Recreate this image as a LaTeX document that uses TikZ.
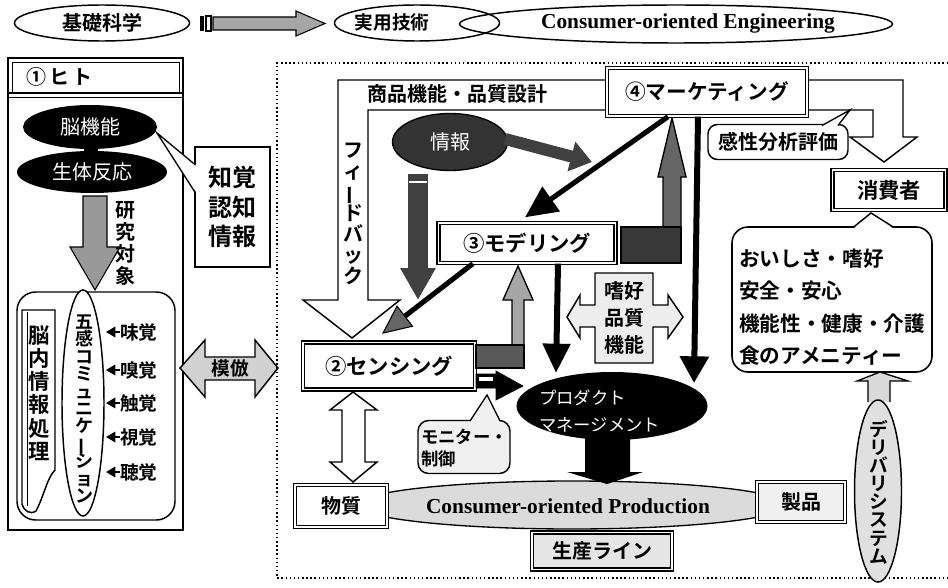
\documentclass[tikz,border=0pt]{standalone}
\usepackage{fontspec}
\usepackage{graphicx}
\setmainfont{Liberation Serif}
\newfontfamily\jp{Noto Sans CJK JP}[BoldFont={* Bold}]
\usetikzlibrary{shapes.geometric,arrows.meta,calc}
\newcommand\vbar{\rotatebox[origin=c]{90}{ー}}
\def\pxu{0.75pt}
\lineskiplimit=-50pt
\lineskip=0pt
\begin{document}
\begin{tikzpicture}[x=0.75pt,y=-0.75pt,
  J/.style={font=\jp\bfseries\fontsize{#1}{#1}\selectfont, inner sep=0pt},
  J/.default=15,
  W/.style={font=\jp\fontsize{#1}{#1}\selectfont, text=white, inner sep=0pt},
  W/.default=15,
  JL/.style 2 args={font=\jp\bfseries\fontsize{#1}{#2}\selectfont, align=center, inner sep=0pt},
  dbox/.style={draw, line width=1pt, double=white, double distance=1.4pt, inner sep=0pt},
  ol/.style={line width=1.1pt},
  en/.style={font=\bfseries\fontsize{16}{16}\selectfont, inner sep=0pt}
]
\useasboundingbox (0,0) rectangle (948,588);

% ---------------- top row ----------------
\node[ellipse, draw, ol, minimum width=175*\pxu, minimum height=36*\pxu, J=15] (kiso) at (102,23) {基礎科学};
\fill (200,16) rectangle (204,31);
\draw[line width=0.8pt] (206,16) rectangle (211,31);
\filldraw[fill=black!35, line width=0.8pt] (213,17) -- (296,17) -- (296,11) -- (325,23.5) -- (296,36) -- (296,30) -- (213,30) -- cycle;
\node[ellipse, draw, ol, minimum width=165*\pxu, minimum height=36*\pxu] (jitsu) at (417,23) {};
\node[J=14] (jitsuT) at (392,22) {実用技術};
\node[ellipse, draw, ol, minimum width=433*\pxu, minimum height=38*\pxu] (ce) at (676,24) {};
\node[en] (ceT) at (688,23) {Consumer-oriented Engineering};

% ---------------- left panel ----------------
\draw[line width=1.3pt] (8,58) rectangle (183,530);
\draw[line width=0.6pt] (12,62) rectangle (179,92);
\draw[line width=1pt] (8,93) -- (183,93);
\draw[line width=0.6pt] (8,97) -- (183,97);
\node[J=15, anchor=west] (hito) at (26,77) {①\,ヒ\,ト};

\fill (84,145) rectangle (98,155);
\node[ellipse, fill=black, minimum width=134*\pxu, minimum height=44*\pxu, W=15] (brain) at (90,127) {脳機能};
\node[ellipse, fill=black, minimum width=150*\pxu, minimum height=42*\pxu, W=15] (bio) at (92,172) {生体反応};

\node[draw, ol, fill=white, minimum width=75*\pxu, minimum height=120*\pxu, JL={18}{22}] (chikaku) at (232.5,207) {知覚\\認知\\情報};
\fill[white] (196.5,165) -- (157,133) -- (196.5,193) -- cycle;
\draw[line width=1pt] (195.5,165) -- (157,133) -- (195.5,193);

\filldraw[fill=black!40, line width=0.8pt] (83,196) -- (107,196) -- (107,247) -- (120,247) -- (95,290) -- (70,247) -- (83,247) -- cycle;
\node[JL={15}{16.5}] (kenkyu) at (125,243) {研\\究\\対\\象};

\node[draw, ol, rounded corners=14pt, minimum width=158*\pxu, minimum height=228*\pxu] (sensebox) at (96,406) {};
\node[ellipse, draw, ol, fill=white, minimum width=42*\pxu, minimum height=226*\pxu] (gokan) at (83,403) {};
\node[JL={13.5}{13.1}] (gokanT) at (84,409) {五\\感\\コ\\ミ\\ュ\\ニ\\ケ\\\vbar\\シ\\ョ\\ン};

\draw[ol, fill=white] (22,310) -- (55,310) -- (55,470) .. controls (47,478) and (44,496) .. (36,511) .. controls (30,515) and (24,511) .. (22,504) -- cycle;
\draw[line width=0.6pt] (27,312) -- (27,506);
\node[JL={16}{17.4}] (nounai) at (39,393) {脳\\内\\情\\報\\処\\理};

\foreach \nm/\lab/\yy in {mi/味覚/332, kyu/嗅覚/370, sho/触覚/403, shi/視覚/437, cho/聴覚/472}{
  \node[J=14, anchor=west] (\nm) at (120,\yy) {\lab};
  \draw[line width=1pt, -{Triangle[length=7pt,width=8pt]}] (\nm.west) -- (106,\yy);
}

\filldraw[fill=black!18, ol] (180,368) -- (205,340) -- (205,357) -- (255,357) -- (255,340) -- (278,368) -- (255,397) -- (255,380) -- (205,380) -- (205,397) -- cycle;
\node[J=14] (mohou) at (230,368) {模倣};

% ---------------- right region ----------------
\draw[dotted, line width=1.1pt] (948,63) -- (277,63) -- (277,578) -- (948,578);

% feedback hollow arrow
\filldraw[fill=white, ol] (612,80) -- (338,80) -- (338,300) -- (303,300) -- (352,338) -- (400,300) -- (368,300) -- (368,110) -- (612,110);
\node[J=15] (shohin) at (457,94) {商品機能・品質設計};
\node[JL={15}{15.7}] (fb) at (353,214) {フ\\ィ\\\vbar\\ド\\バ\\ッ\\ク};

% hollow arrow to consumer
\filldraw[fill=white, ol] (800,80) -- (903,80) -- (903,137) -- (917,137) -- (884,162) -- (850,137) -- (873,137) -- (873,110) -- (800,110);

% L arrow model -> marketing
\filldraw[fill=black!60, line width=1pt] (621,227) -- (663,227) -- (663,177) -- (658,177) -- (672,118) -- (686,177) -- (681,177) -- (681,263) -- (621,263) -- cycle;
\filldraw[fill=black!78, line width=1pt] (621,227) rectangle (681,263);

\node[dbox, fill=white, minimum width=200*\pxu, minimum height=48*\pxu, J=15.5] (mkt) at (707,92) {④マーケティング};

\node[draw, ol, rounded corners=7pt, fill=white, minimum width=140*\pxu, minimum height=35*\pxu, J=15] (kansei) at (778,142) {感性分析評価};
\fill[white] (822,126) -- (850,110) -- (838,126) -- cycle;
\draw[line width=1pt] (822,125.5) -- (850,110) -- (838,125.5);

\node[dbox, fill=white, minimum width=113*\pxu, minimum height=40*\pxu, J=16] (cons) at (889,190) {消費者};

\node[draw, line width=1.2pt, rounded corners=12pt, fill=white, minimum width=200*\pxu, minimum height=145*\pxu] (needs) at (832,299.5) {};
\fill[white] (853,229) -- (871,213) -- (894,229) -- cycle;
\draw[line width=1.1pt] (853,227.5) -- (871,213) -- (894,227.5);
\node[font=\jp\bfseries\fontsize{15.5}{24.3}\selectfont, align=left, inner sep=0pt, anchor=west] (needsT) at (739,307) {おいしさ・嗜好\\安全・安心\\機能性・健康・介護\\食のアメニティー};

% delivery
\filldraw[fill=black!15, line width=1pt] (868,402) -- (868,381) -- (857,381) -- (880,372) -- (908,381) -- (890,381) -- (890,402);
\node[ellipse, draw, ol, fill=black!12, minimum width=47*\pxu, minimum height=182*\pxu] (deliv) at (878,491) {};
\node[JL={14}{13.6}] (delivT) at (879,492) {デ\\リ\\バ\\リ\\シ\\ス\\テ\\ム};

% info
\node[ellipse, draw, line width=1pt, fill=black!80, minimum width=115*\pxu, minimum height=57*\pxu, W=15] (info) at (450,142) {情報};
\draw[black!75, line width=9pt, -{Triangle[length=16pt, width=22pt]}] ($(info.east)+(-3,-3)$) -- (592,162);
\draw[black!75, line width=15pt, -{Triangle[length=24pt, width=25pt]}] ($(info.south)+(-32,3)$) -- (418,300);
\draw[white, line width=1.2pt] (409,182) -- (427,182);

% modeling
\node[dbox, fill=white, minimum width=177*\pxu, minimum height=40*\pxu, J=16] (model) at (527,243) {③モデリング};

% cross
\filldraw[fill=black!7, ol] (595,273) -- (653,273) -- (653,305) -- (668,305) -- (668,295) -- (683,317) -- (668,338) -- (668,327) -- (653,327) -- (653,363) -- (595,363) -- (595,327) -- (580,327) -- (580,338) -- (567,317) -- (580,295) -- (580,305) -- (595,305) -- cycle;
\node[JL={15}{20}] (shiko) at (624,318) {嗜好\\品質\\機能};

% sensing
\node[dbox, fill=white, minimum width=172*\pxu, minimum height=47*\pxu, J=16] (sens) at (389,366) {②センシング};

% L arrow sensing -> model
\filldraw[fill=black!35, line width=1pt] (512,346) -- (512,300) -- (503,300) -- (518,266) -- (533,300) -- (524,300) -- (524,346) -- cycle;
\filldraw[fill=black!65, line width=1pt] (476,345) rectangle (524,368);

% product management
\node[ellipse, fill=black, minimum width=191*\pxu, minimum height=68*\pxu] (pm) at (612,406) {};
\node[font=\jp\fontsize{13}{20}\selectfont, text=white, align=left, inner sep=0pt, anchor=west] (pmT) at (539,411) {プロダクト\\マネージメント};

% sensing -> pm
\filldraw[line width=0.5pt] (476,374) -- (496,374) -- (496,371) -- (523,386) -- (496,400) -- (496,388) -- (476,388) -- cycle;
\filldraw[fill=white, line width=0.6pt] (478,376) rectangle (493,381);

% monitor callout
\node[draw, ol, rounded corners=8pt, fill=black!6, minimum width=92*\pxu, minimum height=53*\pxu] (mon) at (464,447) {};
\fill[black!6] (470,422) -- (487,395) -- (500,422) -- cycle;
\draw[line width=1pt] (470,421) -- (487,395) -- (500,421);
\node[font=\jp\bfseries\fontsize{13}{17}\selectfont, align=left, inner sep=0pt, anchor=west] (monT) at (421,448) {モニター・\\制御};

% black line arrows
\draw[line width=3.8pt, -{Triangle[length=24pt, width=22pt]}] ($(mkt.south)+(-39,0)$) -- ($(model.north)+(-2,-5)$);
\draw[line width=4.5pt, -{Triangle[length=20pt, width=21pt]}] ($(mkt.south)+(-9,0)$) -- ($(pm.center)+(82,-23)$);
\draw[line width=4.5pt, -{Triangle[length=22pt, width=20pt]}] ($(model.south)+(31,0)$) -- ($(pm.center)+(-56,-33)$);
\draw[line width=3.8pt, -{Triangle[length=22pt, width=20pt, fill=black!60, line width=0.8pt]}] ($(model.south west)+(35,0)$) -- ($(sens.north)+(-7,-8)$);

% production band
\node[ellipse, draw, line width=1pt, fill=black!14, minimum width=430*\pxu, minimum height=48*\pxu] (prod) at (572,505) {};
\node[en] (prodT) at (568,506) {Consumer-oriented Production};
\fill (585,431) -- (630,431) -- (630,472) -- (643,472) -- (607,484) -- (567,472) -- (585,472) -- cycle;

\node[dbox, fill=white, minimum width=92*\pxu, minimum height=42*\pxu, J=15] (busshitsu) at (341,506) {物質};
\node[dbox, fill=black!6, minimum width=88*\pxu, minimum height=40*\pxu, J=15] (seihin) at (801,502) {製品};
\node[dbox, fill=black!10, minimum width=140*\pxu, minimum height=37*\pxu, J=15] (line) at (602,551) {生産ライン};

% sensing <-> substance
\filldraw[fill=white, ol] (353,392) -- (377,410) -- (365,410) -- (365,462) -- (377,462) -- (353,482) -- (330,462) -- (342,462) -- (342,410) -- (330,410) -- cycle;
\end{tikzpicture}
\end{document}
